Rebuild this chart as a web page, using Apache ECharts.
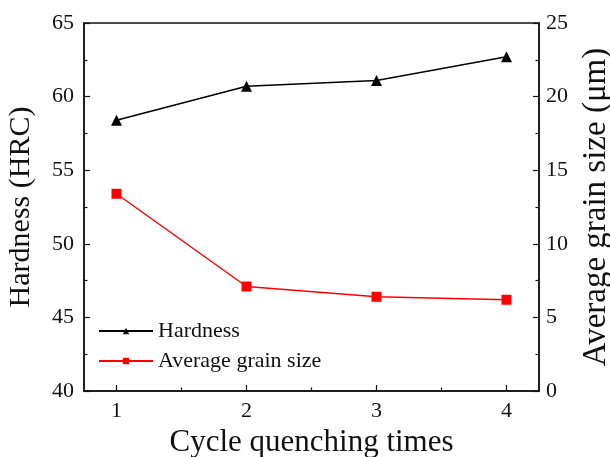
<!DOCTYPE html>
<html>
<head>
<meta charset="utf-8">
<script src="https://cdn.jsdelivr.net/npm/echarts@6/dist/echarts.min.js"></script>
<style>
  html, body { margin: 0; padding: 0; background: #fff; }
  #chart { width: 610px; height: 457px; }
</style>
</head>
<body>
<div id="chart"></div>
<script>
// Cycle quenching times on the x axis
const cycles = [1, 2, 3, 4];
// Hardness (HRC), left axis
const hardness = [58.4, 60.7, 61.1, 62.7];
// Average grain size (μm), right axis
const grainSize = [13.4, 7.1, 6.4, 6.2];
// Minor tick positions between the cycle counts
const cycleMinorTicks = [1.5, 2.5, 3.5];

const FONT = '"Liberation Serif", "Times New Roman", serif';
const INK = '#111';

const chart = echarts.init(document.getElementById('chart'), null, { renderer: 'canvas' });

const pairs = (xs, ys) => xs.map((x, i) => [x, ys[i]]);

chart.setOption({
  animation: false,
  backgroundColor: '#fff',
  grid: {
    left: 84, right: 71, top: 23, bottom: 66,
    outerBoundsMode: 'none',
    show: true, borderColor: INK, borderWidth: 1.5, backgroundColor: 'transparent'
  },
  legend: {
    orient: 'vertical',
    left: 93, top: 315,
    itemWidth: 54, itemHeight: 8, itemGap: 8,
    textStyle: { fontFamily: FONT, fontSize: 22, color: INK },
    data: ['Hardness', 'Average grain size']
  },
  xAxis: [
    {
      type: 'value', min: 0.75, max: 4.25,
      name: 'Cycle quenching times', nameLocation: 'middle', nameGap: 36,
      nameTextStyle: { fontFamily: FONT, fontSize: 31, color: INK },
      axisLine: { show: true, lineStyle: { color: INK, width: 1.5 } },
      axisTick: { show: true, inside: true, length: 6, customValues: cycles, lineStyle: { color: INK, width: 1.2 } },
      axisLabel: { customValues: cycles, margin: 9, fontFamily: FONT, fontSize: 22, color: INK },
      splitLine: { show: false }
    },
    {
      type: 'value', min: 0.75, max: 4.25, position: 'bottom',
      axisLine: { show: false },
      axisTick: { show: true, inside: true, length: 3.5, customValues: cycleMinorTicks, lineStyle: { color: INK, width: 1.2 } },
      axisLabel: { show: false },
      splitLine: { show: false }
    }
  ],
  yAxis: [
    {
      type: 'value', min: 40, max: 65, interval: 5, position: 'left',
      name: 'Hardness (HRC)', nameLocation: 'middle', nameGap: 48, nameRotate: 90,
      nameTextStyle: { fontFamily: FONT, fontSize: 30, color: INK },
      axisLine: { show: true, lineStyle: { color: INK, width: 1.5 } },
      axisTick: { show: true, inside: true, length: 6, lineStyle: { color: INK, width: 1.2 } },
      minorTick: { show: true, splitNumber: 2, length: 3.5, lineStyle: { color: INK, width: 1.2 } },
      axisLabel: { margin: 10, fontFamily: FONT, fontSize: 22, color: INK },
      splitLine: { show: false }
    },
    {
      type: 'value', min: 0, max: 25, interval: 5, position: 'right',
      name: 'Average grain size (μm)', nameLocation: 'middle', nameGap: 41, nameRotate: 90,
      nameTextStyle: { fontFamily: FONT, fontSize: 33, color: INK },
      axisLine: { show: true, lineStyle: { color: INK, width: 1.5 } },
      axisTick: { show: true, inside: true, length: 6, lineStyle: { color: INK, width: 1.2 } },
      minorTick: { show: true, splitNumber: 2, length: 3.5, lineStyle: { color: INK, width: 1.2 } },
      axisLabel: { margin: 7, fontFamily: FONT, fontSize: 22, color: INK },
      splitLine: { show: false }
    }
  ],
  series: [
    {
      name: 'Hardness', type: 'line', xAxisIndex: 0, yAxisIndex: 0,
      data: pairs(cycles, hardness),
      symbol: 'triangle', symbolSize: 11,
      lineStyle: { color: '#000', width: 1.5 },
      itemStyle: { color: '#000' }
    },
    {
      name: 'Average grain size', type: 'line', xAxisIndex: 0, yAxisIndex: 1,
      data: pairs(cycles, grainSize),
      symbol: 'rect', symbolSize: 10,
      lineStyle: { color: '#ff0000', width: 1.5 },
      itemStyle: { color: '#ff0000' }
    }
  ]
});
</script>
</body>
</html>
